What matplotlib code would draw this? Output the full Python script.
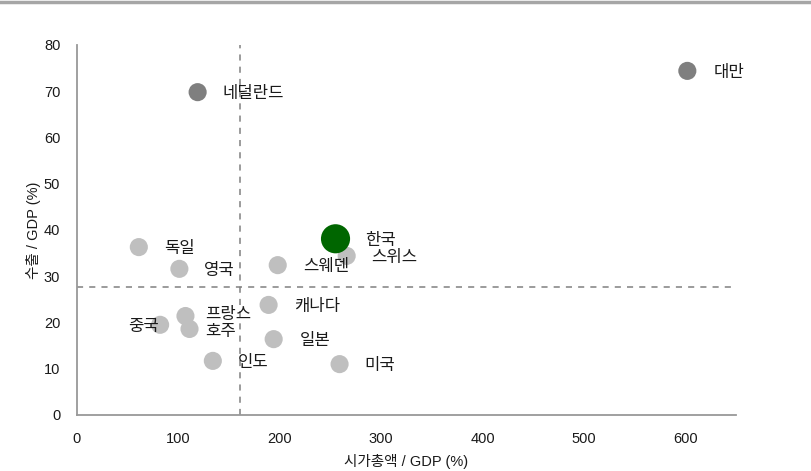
import matplotlib.pyplot as plt
from matplotlib.lines import Line2D

plt.rcParams['font.family'] = ['Liberation Sans', 'Noto Sans CJK KR']

# 국가별 시가총액/GDP, 수출/GDP (%)
countries = ["대만", "네덜란드", "독일", "영국", "스위스", "스웨덴", "캐나다",
             "프랑스", "중국", "호주", "일본", "인도", "미국", "한국"]
mktcap_gdp = [602, 119, 61, 101, 266, 198, 189, 107, 82, 111, 194, 134, 259, 255]
export_gdp = [74.4, 69.8, 36.3, 31.6, 34.4, 32.4, 23.8, 21.4, 19.5, 18.6, 16.4, 11.7, 11.0, 38.1]
colors = ["#7f7f7f", "#7f7f7f"] + ["#bfbfbf"] * 11 + ["#006600"]
sizes = [170] * 13 + [440]

# 라벨 위치 (포인트 오프셋)
label_offsets = {
    "대만": (19, -1), "네덜란드": (18, -1), "독일": (18, -1), "영국": (18, -1),
    "스위스": (18, -1), "스웨덴": (18, -1), "캐나다": (18, -1), "프랑스": (14, 1),
    "중국": (-1, -1), "호주": (11, -2), "일본": (19, -1), "인도": (18, -1),
    "미국": (18, -1), "한국": (21, -1),
}

avg_mktcap = 161
avg_export = 27.7

fig = plt.figure(figsize=(8.12, 4.71), dpi=100)
ax = fig.add_axes([0.0948, 0.1189, 0.8116, 0.7856])

ax.axvline(avg_mktcap, color="#808080", linestyle=(0, (4, 4)), linewidth=1.1, zorder=1)
ax.axhline(avg_export, color="#808080", linestyle=(0, (4, 4)), linewidth=1.1, zorder=1)

ax.scatter(mktcap_gdp, export_gdp, s=sizes, c=colors, linewidths=0, zorder=3)

for name, x, y in zip(countries, mktcap_gdp, export_gdp):
    dx, dy = label_offsets[name]
    ha = "right" if dx < 0 else "left"
    ax.annotate(name, (x, y), xytext=(dx, dy), textcoords="offset points",
                ha=ha, va="center", fontsize=12, color="#1a1a1a", zorder=4)

ax.set_xlim(0, 650)
ax.set_ylim(0, 80)
ax.set_xticks(range(0, 700, 100))
ax.set_yticks(range(0, 90, 10))
ax.tick_params(length=0, labelsize=10.5, colors="#1a1a1a")
ax.tick_params(axis="y", pad=12)
ax.tick_params(axis="x", pad=12)
for side in ["top", "right"]:
    ax.spines[side].set_visible(False)
for side in ["left", "bottom"]:
    ax.spines[side].set_color("#999999")
    ax.spines[side].set_linewidth(1.3)

ax.set_xlabel("시가총액 / GDP (%)", fontsize=10.5, color="#1a1a1a", labelpad=6)
ax.set_ylabel("수출 / GDP (%)", fontsize=10.5, color="#1a1a1a", labelpad=2)

fig.add_artist(Line2D([0, 1], [0.995, 0.995], color="#a6a6a6", linewidth=2.5))

fig.savefig("out.png", dpi=100)
